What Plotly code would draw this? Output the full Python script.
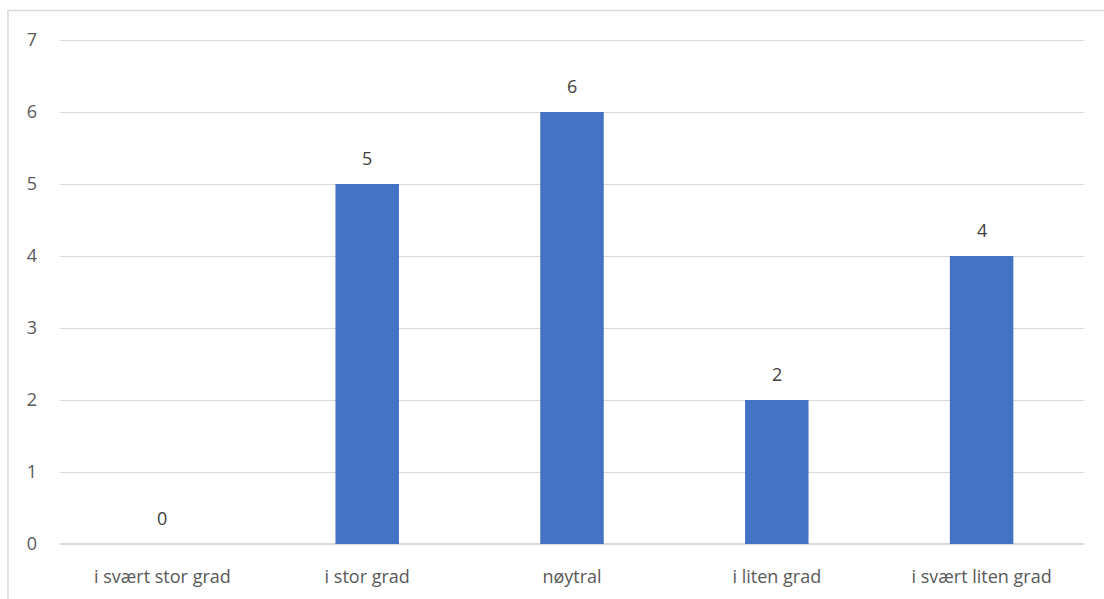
import plotly.graph_objects as go

categories = ["i svært stor grad", "i stor grad", "nøytral", "i liten grad", "i svært liten grad"]
values = [0, 5, 6, 2, 4]
y_ticks = [0, 1, 2, 3, 4, 5, 6, 7]

fig = go.Figure(go.Bar(
    x=categories, y=values,
    marker=dict(color="#4472C4", line=dict(width=0)),
    cliponaxis=False,
))

for c, v in zip(categories, values):
    fig.add_annotation(x=c, y=v, text=str(v), showarrow=False, yanchor="bottom", yshift=12,
                       font=dict(size=18, color="#404040"))

fig.update_layout(
    width=1104, height=599,
    margin=dict(l=60, r=20, t=36, b=55),
    paper_bgcolor="white", plot_bgcolor="white",
    font=dict(family="Open Sans, Liberation Sans, sans-serif", size=17, color="#595959"),
    bargap=0.69,
    showlegend=False,
    shapes=[dict(type="rect", xref="paper", yref="paper",
                 x0=-0.0508, x1=1.2, y0=-0.3, y1=1.05,
                 line=dict(color="#d9d9d9", width=1.5), fillcolor="rgba(0,0,0,0)", layer="below")],
)
fig.update_xaxes(showgrid=False, showline=False, ticks="", ticklabelstandoff=20,
                 tickfont=dict(size=18, color="#595959"))
fig.update_yaxes(range=[0, 7.0556], tickvals=y_ticks, showgrid=True, gridcolor="#d9d9d9", gridwidth=1.2,
                 zeroline=True, zerolinecolor="#d9d9d9", zerolinewidth=1.5,
                 showline=False, ticks="", ticklabelstandoff=22, tickfont=dict(size=18, color="#595959"))

fig.write_html("out.html")
